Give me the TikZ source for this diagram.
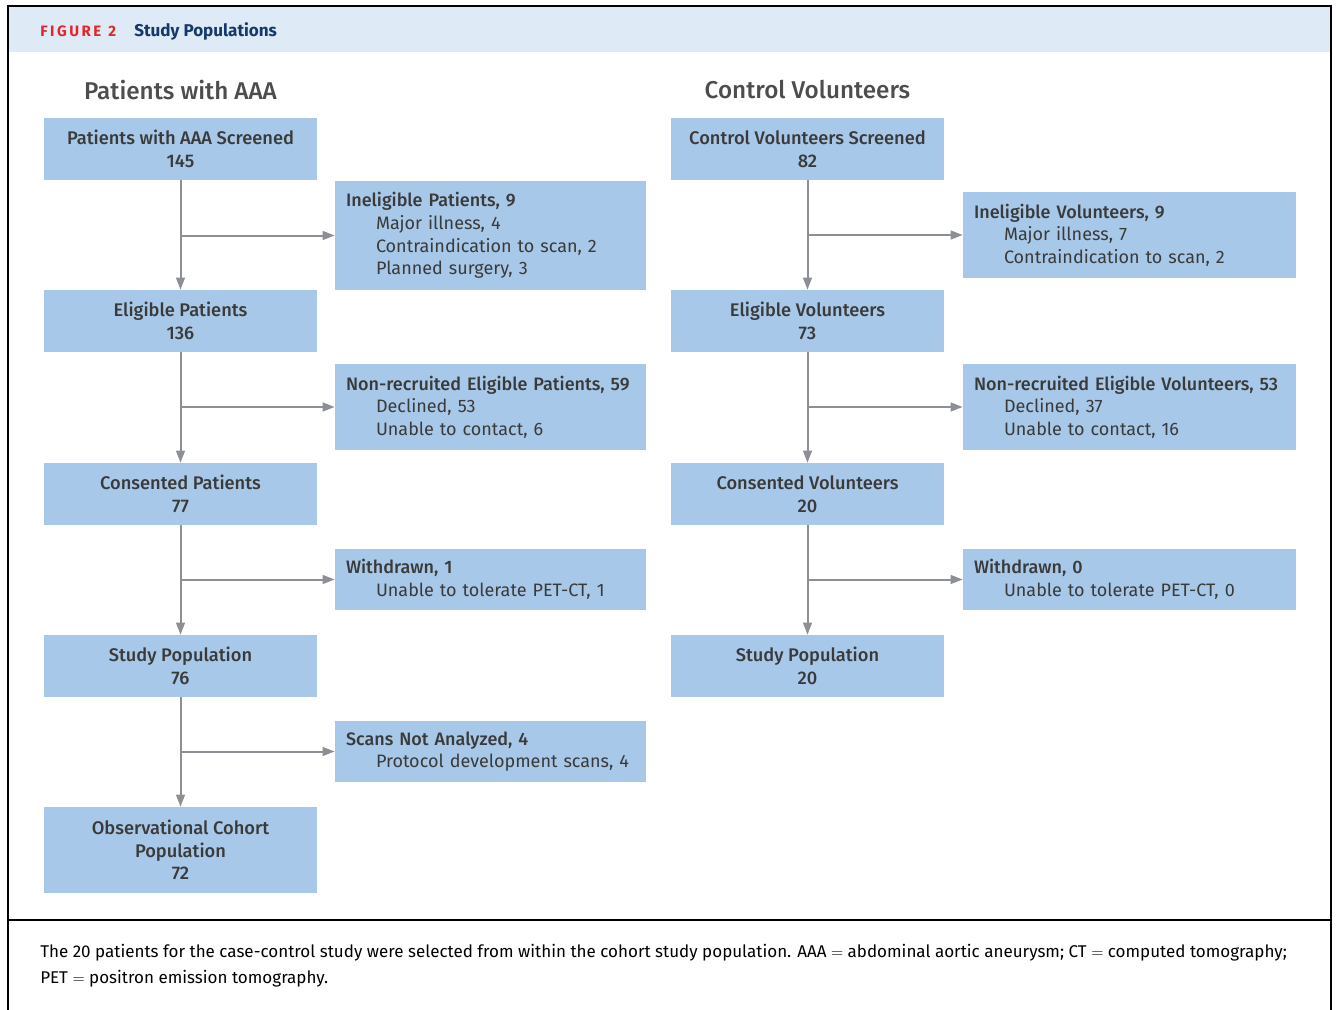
\documentclass[tikz,border=0pt]{standalone}
\usepackage{fontspec}
\IfFontExistsTF{Fira Sans Medium}{\setmainfont{Fira Sans}[BoldFont={Fira Sans Medium}]}{\setmainfont{Fira Sans}}
\newfontfamily\heavyfont{Fira Sans}
\usetikzlibrary{arrows.meta}
\definecolor{boxblue}{HTML}{A7C8E8}
\definecolor{arrgray}{HTML}{8C8F93}
\definecolor{hdrblue}{HTML}{DEEAF6}
\definecolor{figred}{HTML}{E3262E}
\definecolor{navy}{HTML}{15396A}
\definecolor{txt}{HTML}{3A3A3A}
\definecolor{headgray}{HTML}{4D4D4D}
\begin{document}
\begin{tikzpicture}[x=0.75pt,y=-0.75pt,
 mainbox/.style={fill=boxblue, minimum width=204.75pt, minimum height=46.5pt, inner sep=0pt, align=center, text=txt, font=\bfseries\fontsize{13.7}{17}\selectfont},
 sidebox/.style={fill=boxblue, inner xsep=8.25pt, inner ysep=0pt, align=left, text=txt, font=\fontsize{13.5}{17}\selectfont},
 leftside/.style={sidebox, minimum width=233.25pt, text width=216.75pt},
 rightside/.style={sidebox, minimum width=249.75pt, text width=233.25pt},
 arr/.style={draw=arrgray, line width=1.5pt, -{Triangle[length=9pt,width=6.5pt]}},
 heading/.style={text=headgray, font=\bfseries\fontsize{18.2}{22}\selectfont},
]
\newcommand{\ind}{\hspace*{22.5pt}}
\useasboundingbox (0,0) rectangle (1336,1010);
% frame and header
\fill[hdrblue] (8,6) rectangle (1331,52);
\draw[line width=1.5pt] (8,1012) -- (8,6) -- (1331,6) -- (1331,1012);
\draw[line width=1.5pt] (8,920) -- (1331,920);
\node[anchor=west, inner sep=0pt, text=figred, font=\heavyfont\bfseries\fontsize{11.3}{12}\selectfont] (figlab) at (40,31.5) {F\,I\,G\,U\,R\,E\ \ 2};
\node[anchor=west, inner sep=0pt, text=navy, font=\heavyfont\bfseries\fontsize{12.8}{14}\selectfont] (figtitle) at (134,31) {Study Populations};
% headings
\node[heading] (hl) at (180.5,90) {Patients with AAA};
\node[heading] (hr) at (807.5,90) {Control Volunteers};
% left column
\node[mainbox] (l1) at (180.5,149) {Patients with AAA Screened\\145};
\node[mainbox] (l2) at (180.5,321) {Eligible Patients\\136};
\node[mainbox] (l3) at (180.5,494) {Consented Patients\\77};
\node[mainbox] (l4) at (180.5,666) {Study Population\\76};
\node[mainbox, minimum height=64.5pt] (l5) at (180.5,850) {Observational Cohort\\Population\\72};
\node[leftside, minimum height=81.75pt] (ls1) at (490.5,235.5) {\textbf{Ineligible Patients, 9}\\\ind Major illness, 4\\\ind Contraindication to scan, 2\\\ind Planned surgery, 3};
\node[leftside, minimum height=64.5pt] (ls2) at (490.5,407) {\textbf{Non-recruited Eligible Patients, 59}\\\ind Declined, 53\\\ind Unable to contact, 6};
\node[leftside, minimum height=45.75pt] (ls3) at (490.5,579.5) {\textbf{Withdrawn, 1}\\\ind Unable to tolerate PET-CT, 1};
\node[leftside, minimum height=45.75pt] (ls4) at (490.5,751.5) {\textbf{Scans Not Analyzed, 4}\\\ind Protocol development scans, 4};
% right column
\node[mainbox] (r1) at (807.5,149) {Control Volunteers Screened\\82};
\node[mainbox] (r2) at (807.5,321) {Eligible Volunteers\\73};
\node[mainbox] (r3) at (807.5,494) {Consented Volunteers\\20};
\node[mainbox] (r4) at (807.5,666) {Study Population\\20};
\node[rightside, minimum height=64.5pt] (rs1) at (1129.5,235) {\textbf{Ineligible Volunteers, 9}\\\ind Major illness, 7\\\ind Contraindication to scan, 2};
\node[rightside, minimum height=64.5pt] (rs2) at (1129.5,407) {\textbf{Non-recruited Eligible Volunteers, 53}\\\ind Declined, 37\\\ind Unable to contact, 16};
\node[rightside, minimum height=45.75pt] (rs3) at (1129.5,579.5) {\textbf{Withdrawn, 0}\\\ind Unable to tolerate PET-CT, 0};
% arrows
\foreach \a/\b/\s in {l1/l2/ls1, l2/l3/ls2, l3/l4/ls3, l4/l5/ls4, r1/r2/rs1, r2/r3/rs2, r3/r4/rs3}{
  \draw[arr] (\a.south) -- (\b.north);
  \draw[arr] (\a.south |- \s.west) -- (\s.west);
}
% caption
\node[anchor=north west, inner sep=0pt, align=left, text=black, font=\fontsize{12.75}{19.5}\selectfont] (cap) at (40,944) {The 20 patients for the case-control study were selected from within the cohort study population. AAA $=$ abdominal aortic aneurysm; CT $=$ computed tomography;\\PET $=$ positron emission tomography.};
\end{tikzpicture}
\end{document}
